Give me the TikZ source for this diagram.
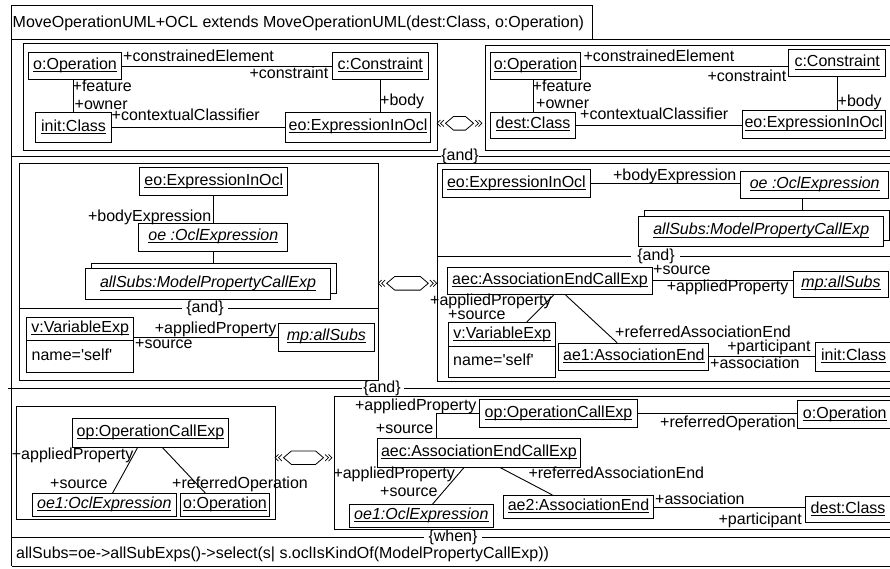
\documentclass[tikz,border=0pt]{standalone}
\usepackage{fontspec}
\setmainfont{Liberation Sans}
\usetikzlibrary{calc}
% underline at a fixed depth below the baseline
\newcommand\uln[1]{\setbox0=\hbox{#1}\rlap{\rule[-2.6pt]{\wd0}{0.9pt}}\box0}
\tikzset{
  pics/equiv/.style={code={
    \draw[line width=0.8pt] (-#1,0) -- (-#1+8,-6.8) -- (#1-8,-6.8) -- (#1,0) -- (#1-8,6.8) -- (-#1+8,6.8) -- cycle;
    \draw[line width=0.7pt] (-#1-5,-3.3) -- (-#1-8.4,0) -- (-#1-5,3.3)
                            (-#1-1.6,-3.3) -- (-#1-5,0) -- (-#1-1.6,3.3);
    \draw[line width=0.7pt] (#1+5,-3.3) -- (#1+8.4,0) -- (#1+5,3.3)
                            (#1+1.6,-3.3) -- (#1+5,0) -- (#1+1.6,3.3);
  }}
}
\begin{document}
\begin{tikzpicture}[x=1pt,y=-1pt,
  every node/.style={font=\fontsize{16}{19}\selectfont},
  obj/.style={draw, line width=1.1pt, anchor=north west, inner sep=0pt, text height=11pt, text depth=4pt, fill=white},
  pane/.style={draw, line width=0.9pt, anchor=north west, inner sep=0pt},
  lbl/.style={inner sep=0pt},
  frm/.style={line width=0.9pt},
  wire/.style={line width=0.9pt},
]
\useasboundingbox (0,0) rectangle (890,568);
\clip (0,0) rectangle (890,568);
\fill[white] (0,0) rectangle (890,568);

% ---- frame and title tab
\node[lbl, anchor=base west] (title) at (12.5,27.5) {MoveOperationUML+OCL extends MoveOperationUML(dest:Class, o:Operation)};
\draw[frm] (11.7,566) -- (11.7,5) -- (592.7,5) -- (592.7,39);
\draw[frm] (11.7,39) -- (895,39);
\draw[frm] (11.7,566) -- (895,566);

% ---- first rule: left and right panes
\node[pane, minimum width=414.3pt, minimum height=106.7pt] (lhsA) at (22.7,43.3) {};
\node[pane, minimum width=420pt, minimum height=105pt] (rhsA) at (485,45) {};

\node[obj, minimum width=92.4pt, minimum height=27.6pt] (opA) at (28.3,51.7) {\uln{o:Operation}};
\node[obj, minimum width=96pt, minimum height=27.6pt] (cA) at (331.7,51.7) {\uln{c:Constraint}};
\node[obj, minimum width=76pt, minimum height=29.4pt] (clsA) at (35,112.3) {\uln{init:Class}};
\node[obj, minimum width=145pt, minimum height=30pt] (eoA) at (285,111.7) {\uln{eo:ExpressionInOcl}};
\draw[wire] (opA.east) -- (opA.east -| cA.west);
\draw[wire] (opA.south -| clsA.north) -- (clsA.north);
\draw[wire] (cA.south) -- (cA.south |- eoA.north);
\draw[wire] (clsA.east) -- (clsA.east -| eoA.west);
\node[lbl, anchor=base west] (lA1) at (123,61.5) {+constrainedElement};
\node[lbl, anchor=base east] (lA2) at (328.5,78) {+constraint};
\node[lbl, anchor=base west] (lA3) at (72.5,91.5) {+feature};
\node[lbl, anchor=base west] (lA4) at (74.5,109.5) {+owner};
\node[lbl, anchor=base west] (lA5) at (380,105) {+body};
\node[lbl, anchor=base west] (lA6) at (111.5,120) {+contextualClassifier};

\node[obj, minimum width=90pt, minimum height=27.6pt] (opB) at (490,51.7) {\uln{o:Operation}};
\node[obj, minimum width=96.7pt, minimum height=27pt] (cB) at (788.3,49.3) {\uln{c:Constraint}};
\node[obj, minimum width=85pt, minimum height=26pt] (clsB) at (490,111.7) {\uln{dest:Class}};
\node[obj, minimum width=143.3pt, minimum height=27.7pt] (eoB) at (741.7,110) {\uln{eo:ExpressionInOcl}};
\draw[wire] (opB.east) -- (opB.east -| cB.west);
\draw[wire] (opB.south -| clsB.north) -- (clsB.north);
\draw[wire] (cB.south) -- (cB.south |- eoB.north);
\draw[wire] (clsB.east) -- (clsB.east -| eoB.west);
\node[lbl, anchor=base west] (lB1) at (583.3,61.7) {+constrainedElement};
\node[lbl, anchor=base east] (lB2) at (786.5,81) {+constraint};
\node[lbl, anchor=base west] (lB3) at (532.5,91.7) {+feature};
\node[lbl, anchor=base west] (lB4) at (536,108) {+owner};
\node[lbl, anchor=base west] (lB5) at (837.5,106.7) {+body};
\node[lbl, anchor=base west] (lB6) at (580,119.3) {+contextualClassifier};

\pic at (459.5,123.3) {equiv=14};

\node[lbl, anchor=base] (andA) at (460,160.5) {\{and\}};
\draw[frm] (11.7,156) -- (441,156);
\draw[frm] (479,156) -- (895,156);

% ---- second rule
\node[pane, minimum width=358.7pt, minimum height=216.8pt] (lhsC) at (19.3,162.7) {};
\node[pane, minimum width=470pt, minimum height=217.5pt] (rhsD) at (437.3,163) {};

\node[obj, minimum width=148pt, minimum height=27.7pt] (eoC) at (139.3,167.3) {\uln{eo:ExpressionInOcl}};
\node[obj, minimum width=149pt, minimum height=28pt] (oeC) at (138.3,222.7) {\uln{\itshape oe :OclExpression}};
\node[obj, minimum width=245.3pt, minimum height=30pt] (subsBackC) at (90.7,263.3) {};
\node[obj, minimum width=245pt, minimum height=31pt] (subsC) at (85,268.3) {\uln{\itshape allSubs:ModelPropertyCallExp}};
\draw[wire] (eoC.south) -- (eoC.south |- oeC.north);
\draw[wire] (oeC.south) -- (oeC.south |- subsBackC.north);
\node[lbl, anchor=base east] (lC1) at (211.5,221) {+bodyExpression};

\node[lbl, anchor=base] (andC) at (205,312.3) {\{and\}};
\draw[frm] (19.3,308) -- (182,308);
\draw[frm] (228,308) -- (378,308);

\node[obj, minimum width=107.3pt, minimum height=23.3pt] (varC) at (26,316.7) {\uln{v:VariableExp}};
\node[obj, minimum width=107.3pt, minimum height=31.7pt] (varCa) at (26,340) {};
\node[lbl, anchor=base west] (varCt) at (31.5,360) {name=\textquotesingle self\textquotesingle};
\node[obj, minimum width=96.3pt, minimum height=28pt] (mpC) at (277.7,322.7) {\uln{\itshape mp:allSubs}};
\draw[wire] (mpC.west) -- (mpC.west -| varC.east);
\node[lbl, anchor=base east] (lC2) at (276.5,333.5) {+appliedProperty};
\node[lbl, anchor=base west] (lC3) at (135,348.5) {+source};

\pic at (407.5,283.3) {equiv=20.8};

\node[obj, minimum width=148.3pt, minimum height=27.4pt] (eoD) at (441.7,169.3) {\uln{eo:ExpressionInOcl}};
\node[obj, minimum width=148.3pt, minimum height=27.6pt] (oeD) at (740,170.7) {\uln{\itshape oe :OclExpression}};
\draw[wire] (eoD.east) -- (eoD.east -| oeD.west);
\node[lbl, anchor=base east] (lD1) at (736.5,180) {+bodyExpression};
\node[obj, minimum width=245pt, minimum height=30pt] (subsBackD) at (644,210) {};
\node[obj, minimum width=245pt, minimum height=30.3pt] (subsD) at (638.3,215.7) {\uln{\itshape allSubs:ModelPropertyCallExp}};
\coordinate (linkD) at (802.7,0);
\draw[wire] (oeD.south -| linkD) -- (subsBackD.north -| linkD);

\node[lbl, anchor=base] (andD) at (656,260.3) {\{and\}};
\draw[frm] (437.3,256) -- (631,256);
\draw[frm] (680,256) -- (895,256);

\node[obj, minimum width=204.4pt, minimum height=27.3pt] (aecD) at (447.3,266.7) {\uln{aec:AssociationEndCallExp}};
\node[obj, minimum width=95.6pt, minimum height=26pt] (mpD) at (792.7,270.7) {\uln{\itshape mp:allSubs}};
\draw[wire] (aecD.east) -- (aecD.east -| mpD.west);
\node[lbl, anchor=base west] (lD2) at (653,274) {+source};
\node[lbl, anchor=base east] (lD3) at (788.5,291.7) {+appliedProperty};
\node[obj, minimum width=106.7pt, minimum height=24pt] (varD) at (448.3,322) {\uln{v:VariableExp}};
\node[obj, minimum width=106.7pt, minimum height=31.3pt] (varDa) at (448.3,346) {};
\node[lbl, anchor=base west] (varDt) at (453,365) {name=\textquotesingle self\textquotesingle};
\node[obj, minimum width=150pt, minimum height=27.3pt] (aeD) at (558.3,342.7) {\uln{ae1:AssociationEnd}};
\node[obj, minimum width=76pt, minimum height=29pt] (clsD) at (815,341.7) {\uln{init:Class}};
\draw[wire] ($(aecD.south west)!0.517!(aecD.south east)$) -- ($(varD.north west)!0.728!(varD.north east)$);
\draw[wire] ($(aecD.south west)!0.576!(aecD.south east)$) -- ($(aeD.north west)!0.389!(aeD.north east)$);
\draw[wire] (aeD.east) -- (aeD.east -| clsD.west);
\node[lbl, anchor=base west] (lD4) at (430,305) {+appliedProperty};
\node[lbl, anchor=base west] (lD5) at (448,319) {+source};
\node[lbl, anchor=base west] (lD6) at (615,337.3) {+referredAssociationEnd};
\node[lbl, anchor=base east] (lD7) at (810.7,351.7) {+participant};
\node[lbl, anchor=base west] (lD8) at (710,368.3) {+association};

\node[lbl, anchor=base] (andE) at (382,392.3) {\{and\}};
\draw[frm] (8.3,388) -- (361.7,388);
\draw[frm] (404,388) -- (895,388);

% ---- third rule
\node[pane, minimum width=259pt, minimum height=113.6pt] (lhsE) at (16,405.7) {};
\node[pane, minimum width=570pt, minimum height=133.6pt] (rhsF) at (334.3,395.7) {};

\node[obj, minimum width=156.6pt, minimum height=28.4pt] (opE) at (71.7,418.3) {\uln{op:OperationCallExp}};
\node[obj, minimum width=143.6pt, minimum height=23pt] (oeE) at (32,493) {\uln{\itshape oe1:OclExpression}};
\node[obj, minimum width=89pt, minimum height=23pt] (oE) at (180,493) {\uln{o:Operation}};
\draw[wire] ($(opE.south west)!0.417!(opE.south east)$) -- ($(oeE.north west)!0.557!(oeE.north east)$);
\draw[wire] ($(opE.south west)!0.577!(opE.south east)$) -- ($(oE.north west)!0.281!(oE.north east)$);
\node[lbl, anchor=base west] (lE1) at (11.7,459) {+appliedProperty};
\node[lbl, anchor=base west] (lE2) at (50,488) {+source};
\node[lbl, anchor=base west] (lE3) at (172,488) {+referredOperation};

\pic at (303.5,457.7) {equiv=20};

\node[obj, minimum width=157.4pt, minimum height=28pt] (opF) at (479.3,399.3) {\uln{op:OperationCallExp}};
\node[obj, minimum width=95pt, minimum height=28.3pt] (oF) at (796.7,400) {\uln{o:Operation}};
\draw[wire] (opF.east) -- (opF.east -| oF.west);
\node[lbl, anchor=base east] (lF1) at (796,427.3) {+referredOperation};
\node[obj, minimum width=203.3pt, minimum height=28.4pt] (aecF) at (376.7,438.3) {\uln{aec:AssociationEndCallExp}};
\coordinate (bendF) at (436.7,0);
\draw[wire] (opF.west) -| (aecF.north -| bendF);
\node[lbl, anchor=base east] (lF2) at (476.7,410) {+appliedProperty};
\node[lbl, anchor=base east] (lF3) at (433.5,433.3) {+source};
\node[obj, minimum width=143.6pt, minimum height=23pt] (oeF) at (349,504) {\uln{\itshape oe1:OclExpression}};
\node[obj, minimum width=150pt, minimum height=23pt] (aeF) at (503,495) {\uln{ae2:AssociationEnd}};
\node[obj, minimum width=85pt, minimum height=26pt] (clsF) at (805,496) {\uln{dest:Class}};
\draw[wire] ($(aecF.south west)!0.426!(aecF.south east)$) -- ($(oeF.north west)!0.578!(oeF.north east)$);
\draw[wire] ($(aecF.south west)!0.606!(aecF.south east)$) -- ($(aeF.north west)!0.327!(aeF.north east)$);
\draw[wire] (aeF.east) -- (aeF.east -| clsF.west);
\node[lbl, anchor=base west] (lF4) at (333.3,478.3) {+appliedProperty};
\node[lbl, anchor=base west] (lF5) at (380,496.7) {+source};
\node[lbl, anchor=base west] (lF6) at (528.3,478.3) {+referredAssociationEnd};
\node[lbl, anchor=base west] (lF7) at (655,504) {+association};
\node[lbl, anchor=base east] (lF8) at (802,524) {+participant};

% ---- guard
\node[lbl, anchor=base] (whenG) at (453,541.5) {\{when\}};
\draw[frm] (11.7,537.5) -- (424,537.5);
\draw[frm] (482,537.5) -- (895,537.5);
\node[lbl, anchor=base west] (cond) at (16,558) {allSubs=oe->allSubExps()->select(s| s.oclIsKindOf(ModelPropertyCallExp))};
\end{tikzpicture}
\end{document}
